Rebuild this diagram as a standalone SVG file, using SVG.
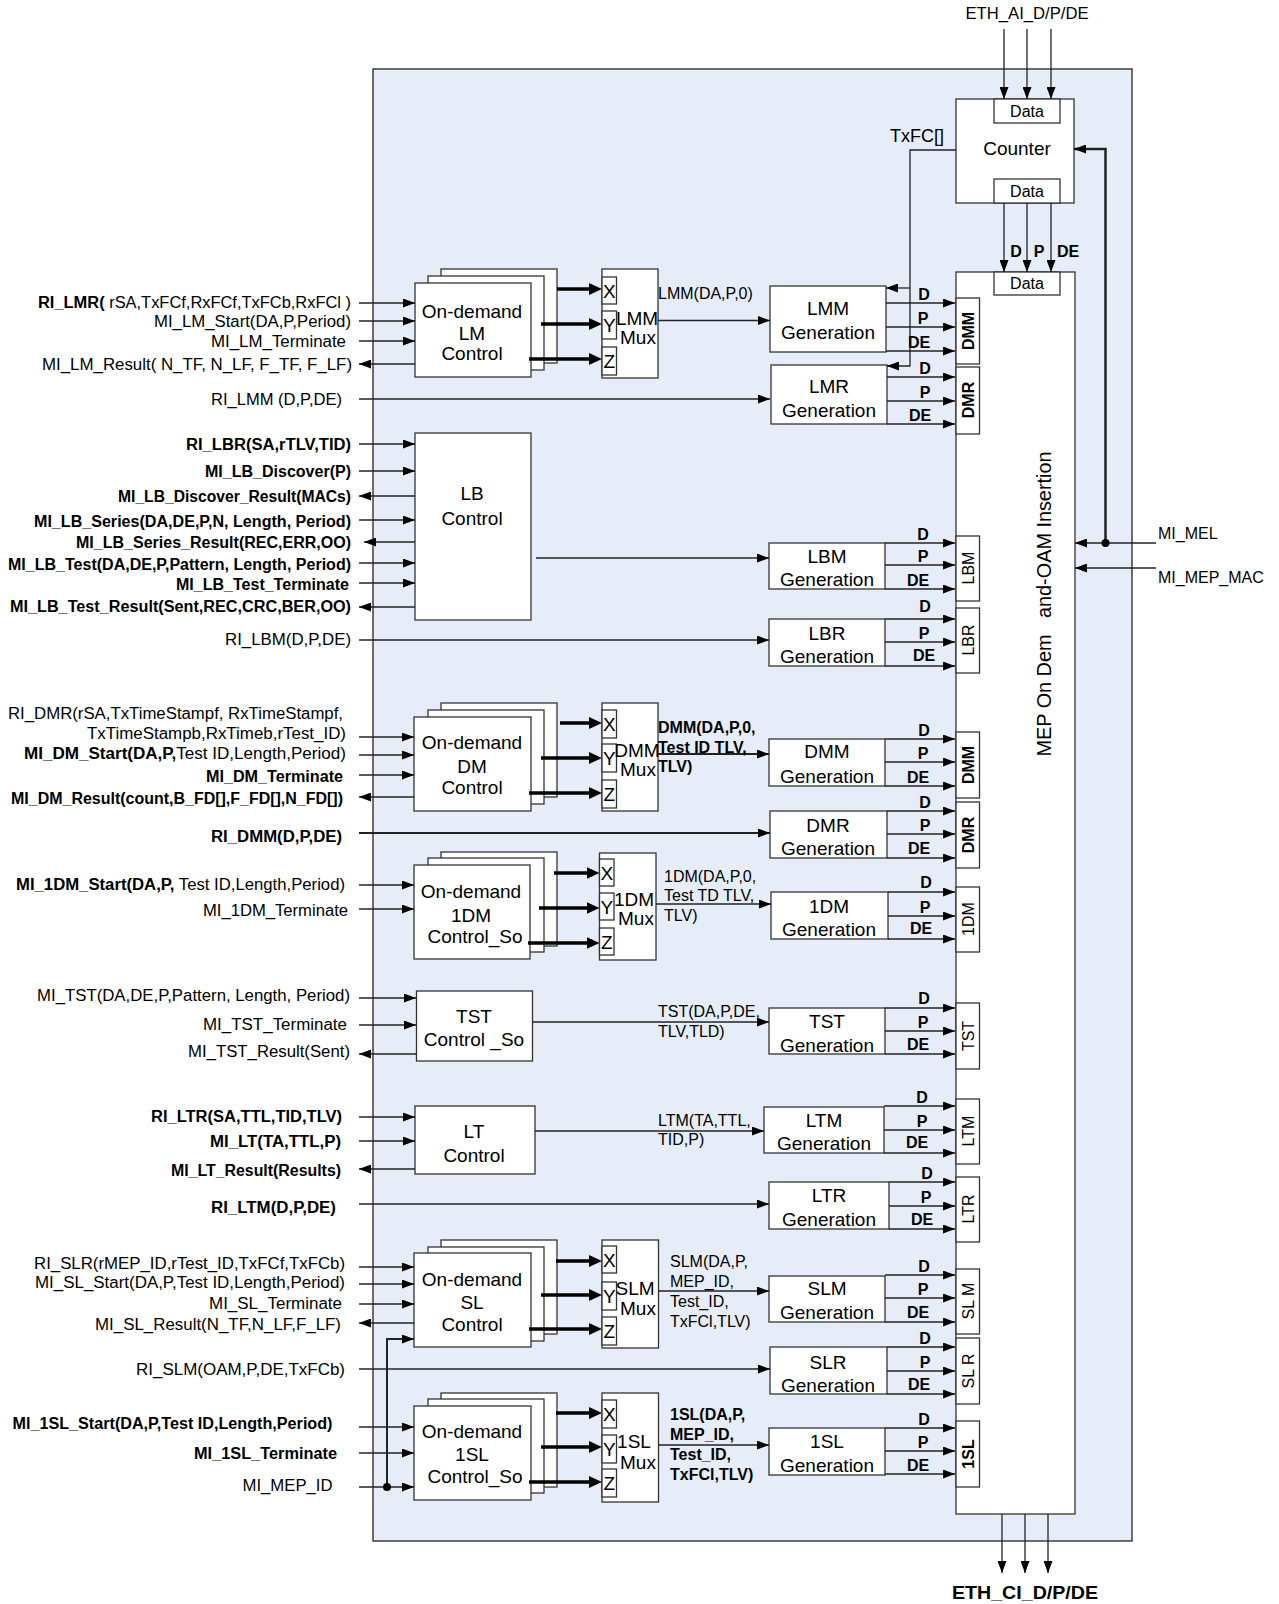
<svg xmlns="http://www.w3.org/2000/svg" width="1279" height="1604" viewBox="0 0 1279 1604">
<defs>
<style>
text{font-family:"Liberation Sans",Arial,Helvetica,sans-serif;fill:#000}
.l{font-size:16px;text-anchor:end}
.lx{font-size:16px}
.b{font-weight:bold}
.n{font-size:19px;text-anchor:middle}
.s{font-size:16px;text-anchor:middle}
.dp{font-size:16px;font-weight:bold;text-anchor:middle}
.box{fill:#fff;stroke:#333;stroke-width:1.3}
.c{stroke:#222;stroke-width:1.3;fill:none}
.ca{stroke:#222;stroke-width:1.3;fill:none;marker-end:url(#ah)}
.tk{stroke:#000;stroke-width:3.5;fill:none;marker-end:url(#ahb)}
</style>
<marker id="ah" viewBox="0 0 12 9" refX="12" refY="4.5" markerWidth="12" markerHeight="9" markerUnits="userSpaceOnUse" orient="auto"><path d="M0,0 L12,4.5 L0,9 Z" fill="#000"/></marker>
<marker id="ahb" viewBox="0 0 13 12" refX="3" refY="6" markerWidth="13" markerHeight="12" markerUnits="userSpaceOnUse" orient="auto"><path d="M0,0 L13,6 L0,12 Z" fill="#000"/></marker>
</defs>
<rect width="1279" height="1604" fill="#fff"/>
<g id="outer"><rect x="373" y="69" width="759" height="1472" fill="#E6EDF8" stroke="#222" stroke-width="1.3"/></g>

<g id="counter">
<rect class="box" x="956" y="99" width="118" height="104"/>
<rect class="box" x="994" y="99" width="66" height="24"/>
<text x="1027" y="117" font-size="16" text-anchor="middle">Data</text>
<rect class="box" x="994" y="179" width="66" height="24"/>
<text x="1027" y="197" font-size="16" text-anchor="middle">Data</text>
<text class="n" x="1017" y="155">Counter</text>
</g>

<g id="insertion">
<rect class="box" x="956" y="272" width="119" height="1242"/>
<rect class="box" x="994" y="272" width="66" height="23"/>
<text x="1027" y="289" font-size="16" text-anchor="middle">Data</text>
<text transform="translate(1044,604) rotate(-90)" y="7" font-size="20" text-anchor="middle" xml:space="preserve" textLength="305" lengthAdjust="spacingAndGlyphs">MEP On Dem   and-OAM Insertion</text>
</g>

<g id="side-boxes">
<rect class="box" x="956" y="298" width="23.5" height="66"/><text class="s b" transform="translate(968,331) rotate(-90)" y="6">DMM</text>
<rect class="box" x="956" y="367" width="23.5" height="67"/><text class="s b" transform="translate(968,400) rotate(-90)" y="6">DMR</text>
<rect class="box" x="956" y="536" width="23.5" height="65"/><text class="s" transform="translate(968,568) rotate(-90)" y="6">LBM</text>
<rect class="box" x="956" y="608" width="23.5" height="65"/><text class="s" transform="translate(968,640) rotate(-90)" y="6">LBR</text>
<rect class="box" x="956" y="732" width="23.5" height="66" stroke-width="2"/><text class="s b" transform="translate(968,765) rotate(-90)" y="6">DMM</text>
<rect class="box" x="956" y="802" width="23.5" height="66" stroke-width="2"/><text class="s b" transform="translate(968,835) rotate(-90)" y="6">DMR</text>
<rect class="box" x="956" y="887" width="23.5" height="65"/><text class="s" transform="translate(968,919) rotate(-90)" y="6">1DM</text>
<rect class="box" x="956" y="1003" width="23.5" height="66"/><text class="s" transform="translate(968,1036) rotate(-90)" y="6">TST</text>
<rect class="box" x="956" y="1099" width="23.5" height="65"/><text class="s" transform="translate(968,1131) rotate(-90)" y="6">LTM</text>
<rect class="box" x="956" y="1177" width="23.5" height="65"/><text class="s" transform="translate(968,1209) rotate(-90)" y="6">LTR</text>
<rect class="box" x="956" y="1269" width="23.5" height="65"/><text class="s" transform="translate(968,1301) rotate(-90)" y="6" xml:space="preserve">SL M</text>
<rect class="box" x="956" y="1338" width="23.5" height="66"/><text class="s" transform="translate(968,1371) rotate(-90)" y="6" xml:space="preserve">SL R</text>
<rect class="box" x="956" y="1421" width="23.5" height="66" stroke-width="2"/><text class="s b" transform="translate(968,1454) rotate(-90)" y="6">1SL</text>
</g>

<g id="lm-control">
<rect class="box" x="441" y="269" width="116" height="94"/>
<rect class="box" x="428" y="276" width="116" height="94"/>
<rect class="box" x="415" y="283" width="116" height="94"/>
<text class="n" x="472" y="318">On-demand</text><text class="n" x="472" y="340">LM</text><text class="n" x="472" y="360">Control</text>
</g>
<g id="lmm-mux">
<rect class="box" x="602" y="269" width="56" height="109"/>
<rect class="box" x="602" y="277" width="14.5" height="27"/><text class="n" x="609.3" y="297.5">X</text>
<rect class="box" x="602" y="311" width="14.5" height="28"/><text class="n" x="609.3" y="332">Y</text>
<rect class="box" x="602" y="347" width="14.5" height="28"/><text class="n" x="609.3" y="368">Z</text>
<text class="n" x="637" y="325">LMM</text><text class="n" x="638" y="344">Mux</text>
</g>
<g id="lb-control"><rect class="box" x="415" y="433" width="116" height="187"/>
<text class="n" x="472" y="500">LB</text><text class="n" x="472" y="525">Control</text></g>

<g id="dm-control">
<rect class="box" x="441" y="703" width="116" height="94"/>
<rect class="box" x="428" y="710" width="116" height="94"/>
<rect class="box" x="414" y="717" width="117" height="94"/>
<text class="n" x="472" y="749">On-demand</text><text class="n" x="472" y="773">DM</text><text class="n" x="472" y="794">Control</text>
</g>
<g id="dmm-mux">
<rect class="box" x="602" y="703" width="56" height="108"/>
<rect class="box" x="602" y="710" width="14.5" height="28"/><text class="n" x="609.3" y="731">X</text>
<rect class="box" x="602" y="744" width="14.5" height="28"/><text class="n" x="609.3" y="765">Y</text>
<rect class="box" x="602" y="780" width="14.5" height="28"/><text class="n" x="609.3" y="801">Z</text>
<text class="n" x="637" y="757">DMM</text><text class="n" x="638" y="776">Mux</text>
</g>

<g id="1dm-control">
<rect class="box" x="441" y="852" width="116" height="94"/>
<rect class="box" x="428" y="858" width="116" height="94"/>
<rect class="box" x="414" y="865" width="116" height="94"/>
<text class="n" x="471" y="898">On-demand</text><text class="n" x="471" y="922">1DM</text><text class="n" x="475" y="943">Control_So</text>
</g>
<g id="1dm-mux">
<rect class="box" x="599.5" y="853" width="56.5" height="107"/>
<rect class="box" x="599.5" y="859" width="14.5" height="27"/><text class="n" x="606.8" y="879.5">X</text>
<rect class="box" x="599.5" y="893" width="14.5" height="27"/><text class="n" x="606.8" y="913.5">Y</text>
<rect class="box" x="599.5" y="928" width="14.5" height="27"/><text class="n" x="606.8" y="948.5">Z</text>
<text class="n" x="634" y="906">1DM</text><text class="n" x="636" y="925">Mux</text>
</g>

<g id="tst-control"><rect class="box" x="416.5" y="991" width="116" height="70"/>
<text class="n" x="474" y="1023">TST</text><text class="n" x="474" y="1046" xml:space="preserve">Control _So</text></g>

<g id="lt-control"><rect class="box" x="415" y="1106" width="120" height="68"/>
<text class="n" x="474" y="1138">LT</text><text class="n" x="474" y="1162">Control</text></g>

<g id="sl-control">
<rect class="box" x="441" y="1240" width="116" height="94"/>
<rect class="box" x="428" y="1247" width="116" height="94"/>
<rect class="box" x="414" y="1253" width="117" height="94"/>
<text class="n" x="472" y="1286">On-demand</text><text class="n" x="472" y="1309">SL</text><text class="n" x="472" y="1331">Control</text>
</g>
<g id="slm-mux">
<rect class="box" x="602" y="1240" width="56.5" height="108"/>
<rect class="box" x="602" y="1246" width="14.5" height="27"/><text class="n" x="609.3" y="1266.5">X</text>
<rect class="box" x="602" y="1282" width="14.5" height="28"/><text class="n" x="609.3" y="1303">Y</text>
<rect class="box" x="602" y="1317" width="14.5" height="28"/><text class="n" x="609.3" y="1338">Z</text>
<text class="n" x="635" y="1295">SLM</text><text class="n" x="638" y="1315">Mux</text>
</g>

<g id="1sl-control">
<rect class="box" x="441" y="1393" width="116" height="94"/>
<rect class="box" x="428" y="1399" width="116" height="94"/>
<rect class="box" x="414" y="1406" width="117" height="94"/>
<text class="n" x="472" y="1438">On-demand</text><text class="n" x="472" y="1461">1SL</text><text class="n" x="475" y="1483">Control_So</text>
</g>
<g id="1sl-mux">
<rect class="box" x="602" y="1393" width="56.5" height="109"/>
<rect class="box" x="602" y="1400" width="14.5" height="28"/><text class="n" x="609.3" y="1421">X</text>
<rect class="box" x="602" y="1435" width="14.5" height="28"/><text class="n" x="609.3" y="1456">Y</text>
<rect class="box" x="602" y="1469" width="14.5" height="28"/><text class="n" x="609.3" y="1490">Z</text>
<text class="n" x="634" y="1448">1SL</text><text class="n" x="638" y="1469">Mux</text>
</g>

<g id="gen-boxes">
<g id="lmm-gen"><rect class="box" x="770" y="286" width="116" height="66"/><text class="n" x="828" y="315">LMM</text><text class="n" x="828" y="339">Generation</text></g>
<g id="lmr-gen"><rect class="box" x="771" y="365" width="116" height="59"/><text class="n" x="829" y="393">LMR</text><text class="n" x="829" y="417">Generation</text></g>
<g id="lbm-gen"><rect class="box" x="769" y="543" width="116" height="46"/><text class="n" x="827" y="563">LBM</text><text class="n" x="827" y="586">Generation</text></g>
<g id="lbr-gen"><rect class="box" x="769" y="619" width="116" height="47"/><text class="n" x="827" y="640">LBR</text><text class="n" x="827" y="663">Generation</text></g>
<g id="dmm-gen"><rect class="box" x="769" y="739" width="116" height="47"/><text class="n" x="827" y="758">DMM</text><text class="n" x="827" y="783">Generation</text></g>
<g id="dmr-gen"><rect class="box" x="770" y="811" width="117" height="47"/><text class="n" x="828" y="832">DMR</text><text class="n" x="828" y="855">Generation</text></g>
<g id="1dm-gen"><rect class="box" x="771" y="892" width="117" height="47"/><text class="n" x="829" y="913">1DM</text><text class="n" x="829" y="936">Generation</text></g>
<g id="tst-gen"><rect class="box" x="769" y="1008" width="116" height="46"/><text class="n" x="827" y="1028">TST</text><text class="n" x="827" y="1052">Generation</text></g>
<g id="ltm-gen"><rect class="box" x="764" y="1107" width="120" height="46"/><text class="n" x="824" y="1127">LTM</text><text class="n" x="824" y="1150">Generation</text></g>
<g id="ltr-gen"><rect class="box" x="769" y="1182" width="120" height="47"/><text class="n" x="829" y="1202">LTR</text><text class="n" x="829" y="1226">Generation</text></g>
<g id="slm-gen"><rect class="box" x="769" y="1276" width="116" height="46"/><text class="n" x="827" y="1295">SLM</text><text class="n" x="827" y="1319">Generation</text></g>
<g id="slr-gen"><rect class="box" x="770" y="1347" width="117" height="47"/><text class="n" x="828" y="1369">SLR</text><text class="n" x="828" y="1392">Generation</text></g>
<g id="1sl-gen"><rect class="box" x="769" y="1428" width="116" height="47"/><text class="n" x="827" y="1448">1SL</text><text class="n" x="827" y="1472">Generation</text></g>
</g>

<g id="connectors">
<path class="ca" d="M1004,29V99"/><path class="ca" d="M1027,29V99"/><path class="ca" d="M1051,29V99"/>
<path class="ca" d="M1004,203V272"/><path class="ca" d="M1027,203V272"/><path class="ca" d="M1051,203V272"/>
<path class="ca" d="M1002,1514V1573"/><path class="ca" d="M1025,1514V1573"/><path class="ca" d="M1048,1514V1573"/>
<path class="ca" d="M956,150H910V366H887"/>
<path class="ca" d="M910,288H886"/>
<path class="ca" d="M1156,543H1075"/>
<path class="ca" d="M1156,568H1075"/>
<path class="ca" style="stroke-width:2.5" d="M1105.5,543V149H1074"/>
<circle cx="1105.5" cy="543" r="4" fill="#000"/>
<path class="ca" d="M359,303H415"/><path class="ca" d="M359,321H415"/><path class="ca" d="M359,341H415"/><path class="ca" d="M415,364H359"/>
<path class="ca" d="M359,399H770"/>
<path class="ca" d="M359,444H415"/><path class="ca" d="M359,471H415"/><path class="ca" d="M415,496H359"/><path class="ca" d="M359,520H415"/><path class="ca" d="M415,542H364"/><path class="ca" d="M359,563H415"/><path class="ca" d="M359,583H415"/><path class="ca" d="M415,607H359"/>
<path class="ca" d="M359,640H769"/>
<path class="ca" d="M359,737H414"/><path class="ca" d="M359,755H414"/><path class="ca" d="M359,775H414"/><path class="ca" d="M414,797H359"/>
<path class="ca" style="stroke-width:2" d="M359,833H770"/>
<path class="ca" d="M359,885H414"/><path class="ca" d="M359,909H414"/>
<path class="ca" d="M359,998H416"/><path class="ca" d="M359,1025H416"/><path class="ca" d="M416,1054H359"/>
<path class="ca" d="M359,1117H415"/><path class="ca" d="M359,1141H415"/><path class="ca" d="M415,1169H359"/>
<path class="ca" d="M359,1204H769"/>
<path class="ca" d="M359,1267H414"/><path class="ca" d="M359,1284H414"/><path class="ca" d="M359,1304H414"/><path class="ca" d="M414,1323H359"/>
<path class="ca" style="stroke-width:2" d="M387,1487V1339H414"/>
<path class="ca" d="M359,1369H770"/>
<path class="ca" d="M359,1427H414"/><path class="ca" d="M359,1453H414"/><path class="ca" d="M359,1487H414"/>
<circle cx="387" cy="1487" r="4" fill="#000"/>
<path class="tk" d="M557,289H592"/><path class="tk" d="M541,324H592"/><path class="tk" d="M529,359H592"/>
<path class="tk" d="M560,723H592"/><path class="tk" d="M541,758H592"/><path class="tk" d="M529,793H592"/>
<path class="tk" d="M554,873H589.5"/><path class="tk" d="M539,908H589.5"/><path class="tk" d="M528,943H589.5"/>
<path class="tk" d="M556,1261H592"/><path class="tk" d="M541,1295H592"/><path class="tk" d="M529,1329H592"/>
<path class="tk" d="M556,1413H592"/><path class="tk" d="M541,1447H592"/><path class="tk" d="M529,1482H592"/>
<path class="ca" d="M658,320.5H770"/>
<path class="ca" d="M536,558H769"/>
<path class="ca" style="stroke-width:1.8" d="M658,754H769"/>
<path class="ca" d="M656,904H771"/>
<path class="ca" d="M533,1022H769"/>
<path class="ca" d="M535,1131H764"/>
<path class="ca" d="M658.5,1291H769"/>
<path class="ca" d="M658.5,1445H769"/>
<path class="ca" d="M886,303H955"/><path class="ca" d="M886,327H955"/><path class="ca" d="M886,351H955"/>
<path class="ca" d="M887,377H955"/><path class="ca" d="M887,401H955"/><path class="ca" d="M887,424H955"/>
<path class="ca" d="M885,543H955"/><path class="ca" d="M885,565H955"/><path class="ca" d="M885,589H955"/>
<path class="ca" d="M885,619H955"/><path class="ca" d="M885,642H955"/><path class="ca" d="M885,666H955"/>
<path class="ca" d="M885,739H955"/><path class="ca" d="M885,762H955"/><path class="ca" d="M885,786H955"/>
<path class="ca" d="M887,811H955"/><path class="ca" d="M887,834H955"/><path class="ca" d="M887,858H955"/>
<path class="ca" d="M888,892H955"/><path class="ca" d="M888,916H955"/><path class="ca" d="M888,939H955"/>
<path class="ca" d="M885,1008H955"/><path class="ca" d="M885,1031H955"/><path class="ca" d="M885,1054H955"/>
<path class="ca" d="M884,1106H955"/><path class="ca" d="M884,1130H955"/><path class="ca" d="M884,1153H955"/>
<path class="ca" d="M889,1182H955"/><path class="ca" d="M889,1206H955"/><path class="ca" d="M889,1229H955"/>
<path class="ca" d="M885,1275H955"/><path class="ca" d="M885,1298H955"/><path class="ca" d="M885,1322H955"/>
<path class="ca" d="M887,1347H955"/><path class="ca" d="M887,1371H955"/><path class="ca" d="M887,1394H955"/>
<path class="ca" d="M885,1428H955"/><path class="ca" d="M885,1451H955"/><path class="ca" d="M885,1474H955"/>
</g>

<g id="dpde-labels">
<text class="dp" x="1016" y="257">D</text><text class="dp" x="1039" y="257">P</text><text class="dp" x="1068" y="257">DE</text>
<text class="dp" x="924" y="300">D</text><text class="dp" x="923" y="324">P</text><text class="dp" x="919" y="348">DE</text>
<text class="dp" x="925" y="374">D</text><text class="dp" x="925" y="398">P</text><text class="dp" x="920" y="421">DE</text>
<text class="dp" x="923" y="540">D</text><text class="dp" x="923" y="562">P</text><text class="dp" x="918" y="586">DE</text>
<text class="dp" x="925" y="612">D</text><text class="dp" x="924" y="639">P</text><text class="dp" x="924" y="661">DE</text>
<text class="dp" x="924" y="736">D</text><text class="dp" x="923" y="759">P</text><text class="dp" x="918" y="783">DE</text>
<text class="dp" x="925" y="808">D</text><text class="dp" x="925" y="831">P</text><text class="dp" x="919" y="854">DE</text>
<text class="dp" x="926" y="888">D</text><text class="dp" x="925" y="913">P</text><text class="dp" x="921" y="934">DE</text>
<text class="dp" x="924" y="1004">D</text><text class="dp" x="923" y="1028">P</text><text class="dp" x="918" y="1050">DE</text>
<text class="dp" x="922" y="1103">D</text><text class="dp" x="922" y="1127">P</text><text class="dp" x="917" y="1148">DE</text>
<text class="dp" x="927" y="1179">D</text><text class="dp" x="926" y="1203">P</text><text class="dp" x="922" y="1225">DE</text>
<text class="dp" x="924" y="1272">D</text><text class="dp" x="923" y="1295">P</text><text class="dp" x="918" y="1318">DE</text>
<text class="dp" x="925" y="1344">D</text><text class="dp" x="925" y="1368">P</text><text class="dp" x="919" y="1390">DE</text>
<text class="dp" x="924" y="1425">D</text><text class="dp" x="923" y="1448">P</text><text class="dp" x="918" y="1471">DE</text>
</g>

<g id="signal-labels">
<text x="1027" y="19" font-size="16" text-anchor="middle" textLength="123" lengthAdjust="spacingAndGlyphs">ETH_AI_D/P/DE</text>
<text x="1025" y="1599" font-size="19" font-weight="bold" text-anchor="middle" textLength="146" lengthAdjust="spacingAndGlyphs">ETH_CI_D/P/DE</text>
<text x="917" y="142" font-size="18" text-anchor="middle">TxFC[]</text>
<text class="lx" x="1158" y="539">MI_MEL</text>
<text class="lx" x="1158" y="583">MI_MEP_MAC</text>
<text class="lx" x="658" y="299">LMM(DA,P,0)</text>
<text class="lx b" x="658" y="733" font-size="17">DMM(DA,P,0,</text>
<text class="lx b" x="658" y="753" font-size="17">Test ID TLV,</text>
<text class="lx b" x="658" y="772" font-size="17">TLV)</text>
<text class="lx" x="664" y="882">1DM(DA,P,0,</text>
<text class="lx" x="664" y="901">Test TD TLV,</text>
<text class="lx" x="664" y="921">TLV)</text>
<text class="lx" x="658" y="1017">TST(DA,P,DE,</text>
<text class="lx" x="658" y="1037">TLV,TLD)</text>
<text class="lx" x="658" y="1126">LTM(TA,TTL,</text>
<text class="lx" x="658" y="1145">TID,P)</text>
<text class="lx" x="670" y="1267">SLM(DA,P,</text>
<text class="lx" x="670" y="1287">MEP_ID,</text>
<text class="lx" x="670" y="1307">Test_ID,</text>
<text class="lx" x="670" y="1327">TxFCl,TLV)</text>
<text class="lx b" x="670" y="1420">1SL(DA,P,</text>
<text class="lx b" x="670" y="1440">MEP_ID,</text>
<text class="lx b" x="670" y="1460">Test_ID,</text>
<text class="lx b" x="670" y="1480">TxFCl,TLV)</text>

<text class="l" x="351" y="308" textLength="313" lengthAdjust="spacingAndGlyphs"><tspan class="b">RI_LMR(</tspan> rSA,TxFCf,RxFCf,TxFCb,RxFCl )</text>
<text class="l" x="351" y="327" textLength="197" lengthAdjust="spacingAndGlyphs">MI_LM_Start(DA,P,Period)</text>
<text class="l" x="346" y="347" textLength="135" lengthAdjust="spacingAndGlyphs">MI_LM_Terminate</text>
<text class="l" x="352" y="370" textLength="310" lengthAdjust="spacingAndGlyphs">MI_LM_Result( N_TF, N_LF, F_TF, F_LF)</text>
<text class="l" x="342" y="405" textLength="131" lengthAdjust="spacingAndGlyphs">RI_LMM (D,P,DE)</text>
<text class="l b" x="351" y="450" textLength="165" lengthAdjust="spacingAndGlyphs">RI_LBR(SA,rTLV,TID)</text>
<text class="l b" x="351" y="477" textLength="146" lengthAdjust="spacingAndGlyphs">MI_LB_Discover(P)</text>
<text class="l b" x="351" y="502" textLength="233" lengthAdjust="spacingAndGlyphs">MI_LB_Discover_Result(MACs)</text>
<text class="l b" x="351" y="527" textLength="317" lengthAdjust="spacingAndGlyphs">MI_LB_Series(DA,DE,P,N, Length, Period)</text>
<text class="l b" x="351" y="548" textLength="275" lengthAdjust="spacingAndGlyphs">MI_LB_Series_Result(REC,ERR,OO)</text>
<text class="l b" x="351" y="570" textLength="343" lengthAdjust="spacingAndGlyphs">MI_LB_Test(DA,DE,P,Pattern, Length, Period)</text>
<text class="l b" x="349" y="590" textLength="173" lengthAdjust="spacingAndGlyphs">MI_LB_Test_Terminate</text>
<text class="l b" x="351" y="612" textLength="341" lengthAdjust="spacingAndGlyphs">MI_LB_Test_Result(Sent,REC,CRC,BER,OO)</text>
<text class="l" x="351" y="645" textLength="126" lengthAdjust="spacingAndGlyphs">RI_LBM(D,P,DE)</text>
<text class="l" x="343" y="719" textLength="335" lengthAdjust="spacingAndGlyphs">RI_DMR(rSA,TxTimeStampf, RxTimeStampf,</text>
<text class="l" x="346" y="739" textLength="259" lengthAdjust="spacingAndGlyphs">TxTimeStampb,RxTimeb,rTest_ID)</text>
<text class="l" x="346" y="759" textLength="322" lengthAdjust="spacingAndGlyphs"><tspan class="b">MI_DM_Start(DA,P,</tspan>Test ID,Length,Period)</text>
<text class="l b" x="343" y="782" textLength="137" lengthAdjust="spacingAndGlyphs">MI_DM_Terminate</text>
<text class="l b" x="343" y="804" textLength="332" lengthAdjust="spacingAndGlyphs">MI_DM_Result(count,B_FD[],F_FD[],N_FD[])</text>
<text class="l b" x="342" y="842" textLength="131" lengthAdjust="spacingAndGlyphs">RI_DMM(D,P,DE)</text>
<text class="l" x="345" y="890" textLength="329" lengthAdjust="spacingAndGlyphs"><tspan class="b">MI_1DM_Start(DA,P,</tspan> Test ID,Length,Period)</text>
<text class="l" x="348" y="916" textLength="145" lengthAdjust="spacingAndGlyphs">MI_1DM_Terminate</text>
<text class="l" x="350" y="1001" textLength="313" lengthAdjust="spacingAndGlyphs">MI_TST(DA,DE,P,Pattern, Length, Period)</text>
<text class="l" x="347" y="1030" textLength="144" lengthAdjust="spacingAndGlyphs">MI_TST_Terminate</text>
<text class="l" x="350" y="1057" textLength="162" lengthAdjust="spacingAndGlyphs">MI_TST_Result(Sent)</text>
<text class="l b" x="342" y="1122" textLength="191" lengthAdjust="spacingAndGlyphs">RI_LTR(SA,TTL,TID,TLV)</text>
<text class="l b" x="341" y="1147" textLength="131" lengthAdjust="spacingAndGlyphs">MI_LT(TA,TTL,P)</text>
<text class="l b" x="341" y="1176" textLength="170" lengthAdjust="spacingAndGlyphs">MI_LT_Result(Results)</text>
<text class="l b" x="336" y="1213" textLength="125" lengthAdjust="spacingAndGlyphs">RI_LTM(D,P,DE)</text>
<text class="l" x="345" y="1269" textLength="311" lengthAdjust="spacingAndGlyphs">RI_SLR(rMEP_ID,rTest_ID,TxFCf,TxFCb)</text>
<text class="l" x="345" y="1288" textLength="310" lengthAdjust="spacingAndGlyphs">MI_SL_Start(DA,P,Test ID,Length,Period)</text>
<text class="l" x="342" y="1309" textLength="133" lengthAdjust="spacingAndGlyphs">MI_SL_Terminate</text>
<text class="l" x="341" y="1330" textLength="246" lengthAdjust="spacingAndGlyphs">MI_SL_Result(N_TF,N_LF,F_LF)</text>
<text class="l" x="345" y="1375" textLength="209" lengthAdjust="spacingAndGlyphs">RI_SLM(OAM,P,DE,TxFCb)</text>
<text class="l b" x="332.5" y="1429" textLength="320" lengthAdjust="spacingAndGlyphs">MI_1SL_Start(DA,P,Test ID,Length,Period)</text>
<text class="l b" x="337" y="1459" textLength="143" lengthAdjust="spacingAndGlyphs">MI_1SL_Terminate</text>
<text class="l" x="332.5" y="1491" textLength="90" lengthAdjust="spacingAndGlyphs">MI_MEP_ID</text>
</g>
</svg>
